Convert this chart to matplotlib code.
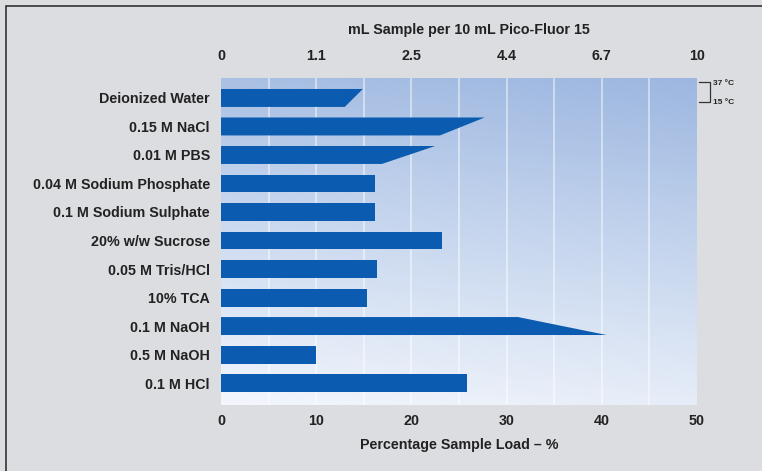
import numpy as np
import matplotlib
matplotlib.use("Agg")
import matplotlib.pyplot as plt
from matplotlib.colors import LinearSegmentedColormap
from matplotlib.patches import Rectangle

# Data
solutions = ["Deionized Water", "0.15 M NaCl", "0.01 M PBS", "0.04 M Sodium Phosphate",
             "0.1 M Sodium Sulphate", "20% w/w Sucrose", "0.05 M Tris/HCl", "10% TCA",
             "0.1 M NaOH", "0.5 M NaOH", "0.1 M HCl"]
load_37c = [14.9, 27.7, 22.5, 16.2, 16.2, 23.2, 16.4, 15.3, 31.2, 10.0, 25.8]
load_15c = [13.0, 23.0, 16.9, 16.2, 16.2, 23.2, 16.4, 15.3, 40.5, 10.0, 25.8]
pct_ticks = [0, 10, 20, 30, 40, 50]
ml_labels = ["0", "1.1", "2.5", "4.4", "6.7", "10"]

bar_color = "#0b5cb0"
text_color = "#222222"
fs = 10.3
plt.rcParams['font.family'] = ['Liberation Sans', 'DejaVu Sans']

fig = plt.figure(figsize=(7.62, 4.71), dpi=100, facecolor="#dcdde0")
ax = fig.add_axes([221/762, 1-405/471, 476/762, 327/471])

ylo, yhi = 10.77, -0.7
ax.set_xlim(0, 50)
ax.set_ylim(ylo, yhi)

# gradient background: light at bottom-left, blue at top-right
cmap = LinearSegmentedColormap.from_list("bg", ["#f3f6fc", "#c9d8ef", "#9db7e0"])
yy, xx = np.mgrid[0:1:200j, 0:1:200j]
grad = 0.85 * (1 - yy) + 0.15 * xx
ax.imshow(grad, cmap=cmap, extent=[0, 50, ylo, yhi], aspect="auto", zorder=0,
          vmin=0, vmax=1)

for gx in range(5, 50, 5):
    ax.axvline(gx, color="white", lw=1.2, alpha=0.55, zorder=1)

h = 0.63
for i, (a, b) in enumerate(zip(load_37c, load_15c)):
    ax.fill([0, a, b, 0], [i - h/2, i - h/2, i + h/2, i + h/2],
            color=bar_color, lw=0, zorder=2)

ax.set_yticks(range(len(solutions)))
ax.set_yticklabels(solutions)
ax.set_xticks(pct_ticks)
ax.tick_params(length=0, labelsize=fs, labelcolor=text_color)
ax.tick_params(axis="x", pad=6.5)
ax.tick_params(axis="y", pad=8)
for lab in ax.get_xticklabels() + ax.get_yticklabels():
    lab.set_fontweight("bold")
ax.set_xlabel("Percentage Sample Load \u2013 %", fontsize=fs, fontweight="bold",
              color=text_color, labelpad=7)
for s in ax.spines.values():
    s.set_visible(False)

top = ax.twiny()
top.set_xlim(0, 50)
top.set_xticks(pct_ticks)
top.set_xticklabels(ml_labels, fontweight="bold")
top.tick_params(length=0, labelsize=fs, labelcolor=text_color, pad=10.5)
top.set_xlabel("mL Sample per 10 mL Pico-Fluor 15", fontsize=fs, fontweight="bold",
               color=text_color, labelpad=11, x=0.52)
for s in top.spines.values():
    s.set_visible(False)

# temperature key
ax.plot([50.2, 51.4, 51.4, 50.2], [-0.55, -0.55, 0.15, 0.15], color="#333333",
        lw=0.9, clip_on=False)
ax.text(51.7, -0.5, "37 \u00b0C", fontsize=6, fontweight="bold", color=text_color,
        va="center", clip_on=False)
ax.text(51.7, 0.15, "15 \u00b0C", fontsize=6, fontweight="bold", color=text_color,
        va="center", clip_on=False)

# outer frame
fig.patches.append(Rectangle((6/762, -0.01), 1.0, 1 - 6/471 + 0.01, transform=fig.transFigure,
                             fill=False, edgecolor="#333333", lw=1.2))

fig.savefig("out.png", dpi=100, facecolor=fig.get_facecolor())
